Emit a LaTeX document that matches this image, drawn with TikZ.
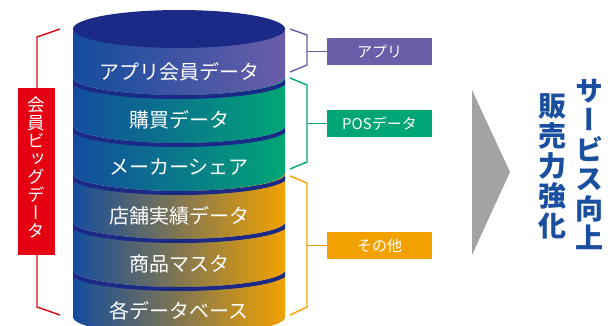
\documentclass[tikz,border=0pt]{standalone}
\usepackage{fontspec}
\newfontfamily\jp{Noto Sans CJK JP}
\newfontfamily\jpv[RawFeature=+vert]{Noto Sans CJK JP}
\definecolor{navy}{HTML}{1B2A87}
\definecolor{segblue}{HTML}{134C9E}
\definecolor{apppurple}{HTML}{6B5DA8}
\definecolor{posgreen}{HTML}{00A676}
\definecolor{othorange}{HTML}{F2A200}
\definecolor{midpurple}{HTML}{3F55A3}
\definecolor{midteal}{HTML}{0F7A94}
\definecolor{midmauve}{HTML}{9C7B84}
\definecolor{bigred}{HTML}{E50012}
\definecolor{arrowgray}{HTML}{A2A4A2}
\definecolor{goalblue}{HTML}{1A4F9F}
\tikzset{
  segtext/.style={font=\jp\fontsize{20}{20}\selectfont, text=white, inner sep=0pt},
  tagbox/.style={minimum width=105pt, minimum height=27pt, inner sep=0pt, text=white,
                 font=\jp\fontsize{15}{15}\selectfont},
  brk/.style={line width=1.4pt},
  vchar/.style={inner sep=0pt, text height=0.88em, text depth=0.12em},
  band/.style={line width=4pt, draw=navy},
}
\begin{document}
\begin{tikzpicture}[x=1pt,y=-1pt]
\useasboundingbox (0,0) rectangle (608,325);
\clip (0,0) rectangle (608,325);
% cylinder segments
\foreach \yt/\mc/\rc in {29/midpurple/apppurple, 77/midteal/posgreen, 125/midteal/posgreen,
                          173/midmauve/othorange, 221/midmauve/othorange, 269/midmauve/othorange}{
  \shade[left color=segblue, middle color=\mc, right color=\rc]
    (73,\yt) -- (73,\yt+48) arc[start angle=180, end angle=0, x radius=106, y radius=18]
    -- (285,\yt) arc[start angle=0, end angle=180, x radius=106, y radius=18] -- cycle;
}
\begin{scope}
  \clip (73,0) rectangle (285,325);
  \foreach \yb in {77,125,173,221,269}{
    \draw[band] (71,\yb+2) arc[start angle=180, end angle=0, x radius=108, y radius=18];
  }
\end{scope}
\fill[navy] (179,29) ellipse[x radius=106, y radius=19];
% segment texts
\node[segtext] (s1) at (179,72) {アプリ会員データ};
\node[segtext] (s2) at (179,120) {購買データ};
\node[segtext] (s3) at (179,167) {メーカーシェア};
\node[segtext] (s4) at (179,216) {店舗実績データ};
\node[segtext] (s5) at (179,264) {商品マスタ};
\node[segtext] (s6) at (179,311) {各データベース};
% left red bracket
\coordinate (rt) at (60,29);
\coordinate (rb) at (60,315);
\draw[brk, bigred] (rt) -- (37,37) -- (37,307) -- (rb);
\node[fill=bigred, minimum width=37pt, minimum height=167pt, inner sep=0pt] (big) at (36.5,171.5) {};
\foreach \ch [count=\i from 0] in {会,員,ビ,ッ,グ,デ,ー,タ}{
  \node[vchar, text=white, font=\jpv\fontsize{17.5}{17.5}\selectfont] (b\i) at (36.5,108+\i*17.9) {\ch};
}
% right brackets and tags
\node[tagbox, fill=apppurple] (tapp) at (379.5,51.5) {アプリ};
\node[tagbox, fill=posgreen] (tpos) at (379.5,123.5) {POSデータ};
\node[tagbox, fill=othorange] (toth) at (379.5,245.5) {その他};
\coordinate (pa) at (290,29); \coordinate (pb) at (290,72);
\draw[brk, apppurple] (pa) -- (307,35) -- (307,65) -- (pb);
\draw[brk, apppurple] (307,51.5) -- (tapp.west);
\coordinate (ga) at (290,78); \coordinate (gb) at (290,169);
\draw[brk, posgreen] (ga) -- (307,85) -- (307,162) -- (gb);
\draw[brk, posgreen] (307,123.5) -- (tpos.west);
\coordinate (oa) at (290,176); \coordinate (ob) at (290,315);
\draw[brk, othorange] (oa) -- (307,183) -- (307,307) -- (ob);
\draw[brk, othorange] (307,245.5) -- (toth.west);
% arrow
\fill[arrowgray] (472,90) -- (510,172) -- (472,255) -- cycle;
% goal text
\foreach \ch [count=\i from 0] in {サ,ー,ビ,ス,向,上}{
  \node[vchar, text=goalblue, font=\jpv\bfseries\fontsize{28}{28}\selectfont] (g\i) at (589,97.5+\i*29.5) {\ch};
}
\foreach \ch [count=\i from 0] in {販,売,力,強,化}{
  \node[vchar, text=goalblue, font=\jpv\bfseries\fontsize{28}{28}\selectfont] (h\i) at (552,113+\i*29.8) {\ch};
}
\end{tikzpicture}
\end{document}
